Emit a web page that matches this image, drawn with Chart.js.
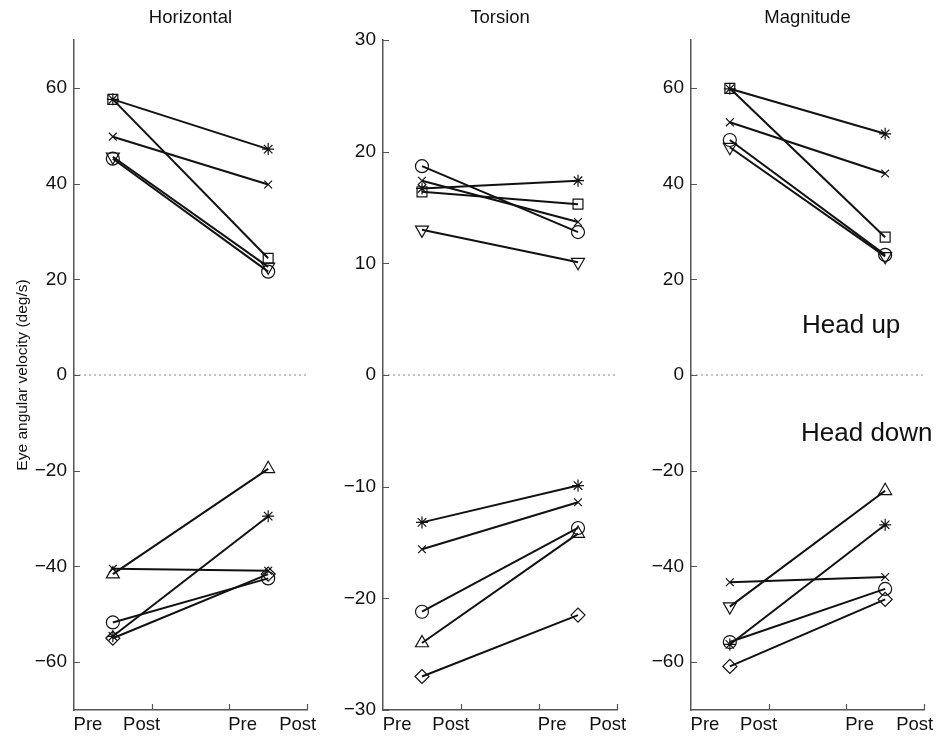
<!DOCTYPE html>
<html>
<head>
<meta charset="utf-8">
<title>Eye angular velocity, pre vs post</title>
<script src="https://cdn.jsdelivr.net/npm/chart.js@4.4.0/dist/chart.umd.min.js"></script>
<style>
  body { margin: 0; background: #fff; }
  #wrap { position: relative; width: 951px; height: 741px; overflow: hidden; }
  #wrap canvas { position: absolute; top: 0; }
  .note { position: absolute; font-family: "Liberation Sans", Arial, Helvetica, sans-serif; color: #111; white-space: nowrap; line-height: 1; font-size: 26px; }
</style>
</head>
<body>
<div id="wrap">
  <canvas id="horizontal" width="330" height="741" style="left:0px"></canvas>
  <canvas id="torsion" width="310" height="741" style="left:330px"></canvas>
  <canvas id="magnitude" width="311" height="741" style="left:640px"></canvas>
  <div class="note" style="left:802px; top:311px">Head up</div>
  <div class="note" style="left:801px; top:419px">Head down</div>
</div>
<script>
// x positions of the two sessions and the axis labels
const xPre = 0.5;
const xPost = 2.5;
const xLabels = ["Pre", "Post", "Pre", "Post"];
const xLabelAt = [0.18, 0.87, 2.17, 2.88];
const xTickMarks = [1, 2, 3];

// subject symbols (same order as the value arrays below)
const upSymbols = ["square", "asterisk", "x", "circle", "downTriangle"];
const downSymbols = ["triangle", "x", "circle", "asterisk", "diamond"];
const magnitudeDownPreSymbols = ["downTriangle", "x", "circle", "asterisk", "diamond"];

// Horizontal (deg/s)
const horizontalUpPre = [57.6, 57.6, 49.8, 45.2, 45.6];
const horizontalUpPost = [24.4, 47.2, 39.8, 21.6, 22.6];
const horizontalDownPre = [-41.6, -40.5, -51.7, -54.6, -55.0];
const horizontalDownPost = [-19.6, -40.9, -42.5, -29.5, -41.6];

// Torsion (deg/s)
const torsionUpPre = [16.4, 16.7, 17.4, 18.7, 13.0];
const torsionUpPost = [15.3, 17.4, 13.7, 12.8, 10.1];
const torsionDownPre = [-24.0, -15.6, -21.2, -13.2, -27.0];
const torsionDownPost = [-14.2, -11.4, -13.7, -9.9, -21.5];

// Magnitude (deg/s)
const magnitudeUpPre = [59.9, 59.8, 52.8, 49.1, 47.6];
const magnitudeUpPost = [28.8, 50.4, 42.1, 25.1, 24.8];
const magnitudeDownPre = [-48.4, -43.3, -55.8, -56.3, -60.9];
const magnitudeDownPost = [-24.2, -42.2, -44.7, -31.3, -46.9];

// y tick values
const wideTicks = [-60, -40, -20, 0, 20, 40, 60];
const torsionTicks = [-30, -20, -10, 0, 10, 20, 30];

const fontFamily = '"Liberation Sans", Arial, Helvetica, sans-serif';
const ink = "#111";
const axisColor = "#555";

const markerStyles = {
    square: { pointStyle: "rect", radius: 7, rotation: 0 },
    asterisk: { pointStyle: "star", radius: 6, rotation: 0 },
    x: { pointStyle: "crossRot", radius: 5.5, rotation: 0 },
    circle: { pointStyle: "circle", radius: 6.5, rotation: 0 },
    triangle: { pointStyle: "triangle", radius: 7.5, rotation: 0 },
    downTriangle: { pointStyle: "triangle", radius: 7.5, rotation: 180 },
    diamond: { pointStyle: "rectRot", radius: 7, rotation: 0 }
};

// one dataset per subject: a line from the pre value to the post value
function subjectDatasets(preSymbols, postSymbols, pre, post) {
    return pre.map((v, i) => {
        const a = markerStyles[preSymbols[i]];
        const b = markerStyles[postSymbols[i]];
        return {
            data: [{ x: xPre, y: v }, { x: xPost, y: post[i] }],
            borderColor: ink,
            borderWidth: 2,
            pointStyle: [a.pointStyle, b.pointStyle],
            pointRadius: [a.radius, b.radius],
            pointRotation: [a.rotation, b.rotation],
            pointBorderColor: ink,
            pointBorderWidth: 1.2,
            pointBackgroundColor: "rgba(0,0,0,0)"
        };
    });
}

function zeroLine() {
    return {
        data: [{ x: 0, y: 0 }, { x: 3, y: 0 }],
        borderColor: "#8a8a8a",
        borderWidth: 1,
        borderDash: [2, 3],
        pointRadius: 0
    };
}

function formatTick(v) {
    return v < 0 ? "\u2212" + Math.abs(v) : String(v);
}

// MATLAB style ticks pointing into the plot
const inwardTicks = {
    id: "inwardTicks",
    afterDraw(chart) {
        const { ctx, chartArea, scales } = chart;
        ctx.save();
        ctx.strokeStyle = axisColor;
        ctx.lineWidth = 1.2;
        ctx.beginPath();
        scales.y.ticks.forEach(t => {
            const py = Math.round(scales.y.getPixelForValue(t.value)) + 0.5;
            ctx.moveTo(chartArea.left, py);
            ctx.lineTo(chartArea.left + 6, py);
        });
        xTickMarks.forEach(v => {
            const px = Math.round(scales.x.getPixelForValue(v)) + 0.5;
            ctx.moveTo(px, chartArea.bottom);
            ctx.lineTo(px, chartArea.bottom - 6);
        });
        ctx.stroke();
        ctx.restore();
    }
};

// panel title centred over the plot area, not the whole canvas
const panelTitle = {
    id: "panelTitle",
    afterDraw(chart, args, opts) {
        const { ctx, chartArea } = chart;
        ctx.save();
        ctx.fillStyle = ink;
        ctx.font = "18.5px " + fontFamily;
        ctx.textAlign = "center";
        ctx.textBaseline = "middle";
        ctx.fillText(opts.text, (chartArea.left + chartArea.right) / 2, 18);
        ctx.restore();
    }
};

function panelOptions(title, yMin, yMax, yTicks, yWidth, padRight, yTitle) {
    return {
        responsive: false,
        animation: false,
        layout: { padding: { top: 40, right: padRight } },
        plugins: {
            legend: { display: false },
            tooltip: { enabled: false },
            title: { display: false },
            panelTitle: { text: title }
        },
        scales: {
            x: {
                type: "linear",
                min: 0,
                max: 3,
                afterBuildTicks: s => { s.ticks = xLabelAt.map(v => ({ value: v })); },
                afterFit: s => { s.height = 31; },
                ticks: {
                    callback: (v, i) => xLabels[i],
                    color: ink,
                    font: { family: fontFamily, size: 18.5 },
                    padding: 4,
                    maxRotation: 0,
                    autoSkip: false
                },
                grid: { display: false, drawTicks: false },
                border: { color: axisColor, width: 1.5 }
            },
            y: {
                type: "linear",
                min: yMin,
                max: yMax,
                afterBuildTicks: s => { s.ticks = yTicks.map(v => ({ value: v })); },
                afterFit: s => { s.width = yWidth; },
                ticks: {
                    callback: v => formatTick(v),
                    color: ink,
                    font: { family: fontFamily, size: 19 },
                    padding: 7
                },
                grid: { display: false, drawTicks: false },
                border: { color: axisColor, width: 1.5 },
                title: yTitle ? {
                    display: true,
                    text: yTitle,
                    color: ink,
                    font: { family: fontFamily, size: 15.5 },
                    padding: { top: 13, bottom: 0 }
                } : { display: false }
            }
        }
    };
}

new Chart(document.getElementById("horizontal"), {
    type: "line",
    data: {
        datasets: [zeroLine()]
            .concat(subjectDatasets(upSymbols, upSymbols, horizontalUpPre, horizontalUpPost))
            .concat(subjectDatasets(downSymbols, downSymbols, horizontalDownPre, horizontalDownPost))
    },
    options: panelOptions("Horizontal", -70, 70, wideTicks, 74, 23, "Eye angular velocity (deg/s)"),
    plugins: [inwardTicks, panelTitle]
});

new Chart(document.getElementById("torsion"), {
    type: "line",
    data: {
        datasets: [zeroLine()]
            .concat(subjectDatasets(upSymbols, upSymbols, torsionUpPre, torsionUpPost))
            .concat(subjectDatasets(downSymbols, downSymbols, torsionDownPre, torsionDownPost))
    },
    options: panelOptions("Torsion", -30, 30, torsionTicks, 53, 23, null),
    plugins: [inwardTicks, panelTitle]
});

new Chart(document.getElementById("magnitude"), {
    type: "line",
    data: {
        datasets: [zeroLine()]
            .concat(subjectDatasets(upSymbols, upSymbols, magnitudeUpPre, magnitudeUpPost))
            .concat(subjectDatasets(magnitudeDownPreSymbols, downSymbols, magnitudeDownPre, magnitudeDownPost))
    },
    options: panelOptions("Magnitude", -70, 70, wideTicks, 51, 27, null),
    plugins: [inwardTicks, panelTitle]
});
</script>
</body>
</html>
